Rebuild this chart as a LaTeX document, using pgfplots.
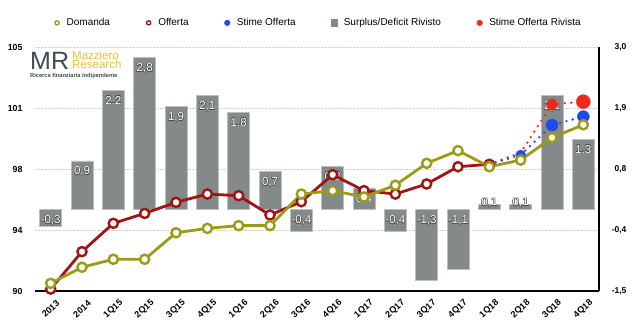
\documentclass[border=0pt]{standalone}
\usepackage{pgfplots}
\pgfplotsset{compat=1.18}
\usepackage{pgfplotstable}
\usepackage{fontspec}
\setmainfont{Liberation Sans}

\definecolor{domanda}{RGB}{155,155,25}
\definecolor{offerta}{RGB}{160,20,20}
\definecolor{stimeblu}{RGB}{30,75,240}
\definecolor{stimerosso}{RGB}{240,40,30}
\definecolor{barfill}{RGB}{132,137,137}
\definecolor{baredge}{RGB}{185,190,190}
\definecolor{mrgray}{RGB}{62,74,84}
\definecolor{mryellow}{RGB}{232,196,40}

% x, label position (top), value (v)
\pgfplotstableread{
x top v
0 0 -0.3
1 0.9 0.9
2 2.2 2.2
3 2.8 2.8
4 1.9 1.9
5 2.1 2.1
6 1.8 1.8
7 0.7 0.7
8 0 -0.4
9 0.8 0.8
10 0.4 0.4
11 0 -0.4
12 0 -1.3
13 0 -1.1
14 0.33 0.1
15 0.33 0.1
16 2.1 2.1
17 1.3 1.3
}\bars

\pgfplotstableread{
x y
0 90.47
1 91.46
2 91.95
3 91.95
4 93.58
5 93.85
6 94.02
7 94.02
8 95.96
9 96.17
10 95.78
11 96.50
12 97.85
13 98.63
14 97.64
15 98.05
16 99.43
17 100.22
}\domanda

\pgfplotstableread{
x y
0 90.12
1 92.42
2 94.16
3 94.77
4 95.45
5 95.96
6 95.86
7 94.67
8 95.49
9 97.15
10 96.17
11 95.96
12 96.58
13 97.64
14 97.79
}\offerta

\pgfplotstableread{
x y
14 97.79
15 98.36
16 100.20
17 100.72
}\stime

\pgfplotstableread{
x y
14 97.79
15 98.50
16 101.48
17 101.64
}\stimeriv

\pgfplotsset{
  barlabel/.style 2 args={draw=none, nodes near coords, point meta=explicit,
    nodes near coords style={anchor=north, xshift=#1, yshift=-2.5pt+#2, text=black!70, font=\fontsize{11.5}{12}\selectfont}},
}

\begin{document}
\begin{tikzpicture}
\useasboundingbox (-35pt,-44pt) rectangle (607pt,291pt);
% ---------- bars (right axis) ----------
\begin{axis}[
  at={(0,0)}, anchor=south west,
  scale only axis, width=564pt, height=244pt,
  xmin=-0.5, xmax=17.5, ymin=-1.5, ymax=3,
  axis x line*=bottom, axis y line*=right,
  x axis line style={-, line width=1.2pt, black},
  y axis line style={-, line width=1.2pt, black},
  xtick={0,...,17},
  xticklabels={2013,2014,1Q15,2Q15,3Q15,4Q15,1Q16,2Q16,3Q16,4Q16,1Q17,2Q17,3Q17,4Q17,1Q18,2Q18,3Q18,4Q18},
  ytick={-1.5,-0.375,0.75,1.875,3},
  yticklabels={{-1,5},{-0,4},{0,8},{1,9},{3,0}},
  major tick length=0pt,
  ymajorgrids,
  grid style={densely dotted, gray!35, line width=0.6pt},
  xticklabel style={font=\fontsize{9}{10}\selectfont\bfseries, yshift=-18pt, rotate=42, anchor=center},
  yticklabel style={font=\fontsize{8.5}{10}\selectfont\bfseries, anchor=east, xshift=31pt},
  /pgf/number format/assume math mode=true,
  /pgf/number format/use comma,
  /pgf/number format/fixed,
  /pgf/number format/fixed zerofill,
  /pgf/number format/precision=1,
  clip=false,
]
\addplot[ybar, bar width=22pt, fill=barfill, draw=baredge, line width=0.7pt] table[x=x,y=v]{\bars};
\addplot[barlabel={0.5pt}{0.5pt}] table[x=x,y=top,meta=v]{\bars};
\addplot[barlabel={-0.5pt}{0.5pt}] table[x=x,y=top,meta=v]{\bars};
\addplot[barlabel={0.5pt}{-0.5pt}] table[x=x,y=top,meta=v]{\bars};
\addplot[barlabel={-0.5pt}{-0.5pt}] table[x=x,y=top,meta=v]{\bars};
\addplot[draw=none, nodes near coords, point meta=explicit,
  nodes near coords style={anchor=north, yshift=-2.5pt, text=white, font=\fontsize{11.5}{12}\selectfont}]
  table[x=x,y=top,meta=v]{\bars};
\end{axis}
% ---------- lines (left axis) ----------
\begin{axis}[
  at={(0,0)}, anchor=south west,
  scale only axis, width=564pt, height=244pt,
  xmin=-0.5, xmax=17.5, ymin=90, ymax=105,
  axis x line=none, axis y line*=left,
  y axis line style={draw=none},
  ytick={90,93.75,97.5,101.25,105},
  yticklabels={90,94,98,101,105},
  major tick length=0pt,
  yticklabel style={font=\fontsize{8.8}{10}\selectfont\bfseries, xshift=-9pt},
  clip=false,
  legend columns=-1,
  legend style={at={(0.502,1.099)}, anchor=center, draw=none, fill=none,
    font=\fontsize{10}{12}\selectfont,
    /tikz/every odd column/.append style={column sep=4pt},
    /tikz/every even column/.append style={column sep=33pt}},
]
\addlegendimage{legend image code/.code={\path (-0.12cm,0) (0.12cm,0); \draw[draw=domanda, fill=white, line width=1.3pt] (0,0) circle (2.1pt);}}
\addlegendentry{Domanda}
\addlegendimage{legend image code/.code={\path (-0.12cm,0) (0.12cm,0); \draw[draw=offerta, fill=white, line width=1.3pt] (0,0) circle (2.1pt);}}
\addlegendentry{Offerta}
\addlegendimage{legend image code/.code={\path (-0.12cm,0) (0.12cm,0); \fill[stimeblu] (0,0) circle (2.8pt);}}
\addlegendentry{Stime Offerta}
\addlegendimage{legend image code/.code={\path (-0.12cm,0) (0.12cm,0); \fill[barfill] (-3.3pt,-3.6pt) rectangle (3.3pt,3.6pt);}}
\addlegendentry{Surplus/Deficit Rivisto}
\addlegendimage{legend image code/.code={\path (-0.12cm,0) (0.12cm,0); \fill[stimerosso] (0,0) circle (2.8pt);}}
\addlegendentry{Stime Offerta Rivista}

% Stime Offerta Rivista
\addplot[forget plot, stimerosso, line width=2.6pt, line cap=round, dash pattern=on 0pt off 6.5pt] table[x=x,y=y]{\stimeriv};
\addplot[forget plot, only marks, mark=*, mark size=5.5pt, stimerosso] coordinates {(16,101.48)};
\addplot[forget plot, only marks, mark=*, mark size=7pt, stimerosso] coordinates {(17,101.64)};
% Stime Offerta
\addplot[forget plot, stimeblu, line width=2.6pt, line cap=round, dash pattern=on 0pt off 6.5pt] table[x=x,y=y]{\stime};
\addplot[forget plot, only marks, mark=*, mark size=5pt, stimeblu] coordinates {(15,98.36)};
\addplot[forget plot, only marks, mark=*, mark size=6pt, stimeblu] coordinates {(16,100.20) (17,100.72)};
% Offerta
\addplot[forget plot, offerta, line width=2.8pt, mark=*, mark size=4.6pt,
  mark options={fill=white, draw=offerta, line width=2.4pt}] table[x=x,y=y]{\offerta};
% Domanda
\addplot[forget plot, domanda, line width=2.8pt, mark=*, mark size=4.6pt,
  mark options={fill=white, draw=domanda, line width=2.4pt}] table[x=x,y=y]{\domanda};
\end{axis}
% ---------- logo ----------
\node[anchor=base west, inner sep=0, text=mrgray, font=\fontsize{25}{25}\selectfont] at (-5pt,221pt) {MR};
\node[anchor=north west, inner sep=0, align=left, text=mryellow, font=\fontsize{11.5}{9.5}\selectfont] at (37pt,240.3pt) {Mazziero\\Research};
\node[anchor=base west, inner sep=0, text=mrgray, font=\fontsize{5.7}{6}\selectfont\bfseries] at (-5pt,213pt) {Ricerca finanziaria indipendente};
\end{tikzpicture}
\end{document}
